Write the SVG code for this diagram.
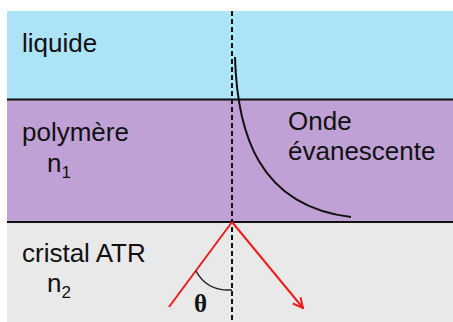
<svg xmlns="http://www.w3.org/2000/svg" width="453" height="322" viewBox="0 0 453 322">
<defs>
<style>
.lbl{font-family:"Liberation Sans",Arial,sans-serif;font-size:26px;fill:#111}
.sub{font-family:"Liberation Sans",Arial,sans-serif;font-size:17px;fill:#111}
.bd{stroke:#111;stroke-width:2}
.ray{stroke:#ee1c1c;stroke-width:2;fill:none}
</style>
<marker id="ah" viewBox="0 0 12 12" refX="11" refY="6" markerWidth="12" markerHeight="12" markerUnits="userSpaceOnUse" orient="auto">
<path d="M1,1 L11,6 L1,11" fill="none" stroke="#ee1c1c" stroke-width="2"/>
</marker>
</defs>
<rect x="0" y="0" width="453" height="322" fill="#ffffff"/>
<g id="liquide">
<rect x="7" y="11" width="446" height="89" fill="#ade3f6"/>
<text class="lbl" x="22" y="52">liquide</text>
</g>
<g id="polymere">
<rect x="7" y="100" width="446" height="122" fill="#bfa1d5"/>
<text class="lbl" x="22" y="141">polymère</text>
<text class="lbl" x="47" y="172">n<tspan class="sub" dy="6">1</tspan></text>
</g>
<g id="cristal">
<rect x="7" y="222" width="446" height="100" fill="#e9e9e9"/>
<text class="lbl" x="22" y="262">cristal ATR</text>
<text class="lbl" x="47" y="292">n<tspan class="sub" dy="6">2</tspan></text>
</g>
<g id="onde">
<text class="lbl" x="288" y="130">Onde</text>
<text class="lbl" x="288" y="160">évanescente</text>
</g>
<g id="connectors">
<line class="bd" x1="7" y1="99.5" x2="453" y2="99.5"/>
<line class="bd" x1="7" y1="222" x2="453" y2="222"/>
<line x1="232" y1="11" x2="232" y2="322" stroke="#111" stroke-width="2" stroke-dasharray="5,3"/>
<path d="M235,57 C237,132 258,206 351,217" fill="none" stroke="#111" stroke-width="2"/>
<line class="ray" x1="232" y1="222" x2="169" y2="307"/>
<line class="ray" x1="232" y1="222" x2="303" y2="308" marker-end="url(#ah)"/>
<path d="M196,271 C203,284 215,291 232,290" fill="none" stroke="#222" stroke-width="1.5"/>
<text x="194" y="312" font-family="Liberation Serif,'Times New Roman',serif" font-weight="bold" font-size="25" fill="#111">θ</text>
</g>
</svg>
